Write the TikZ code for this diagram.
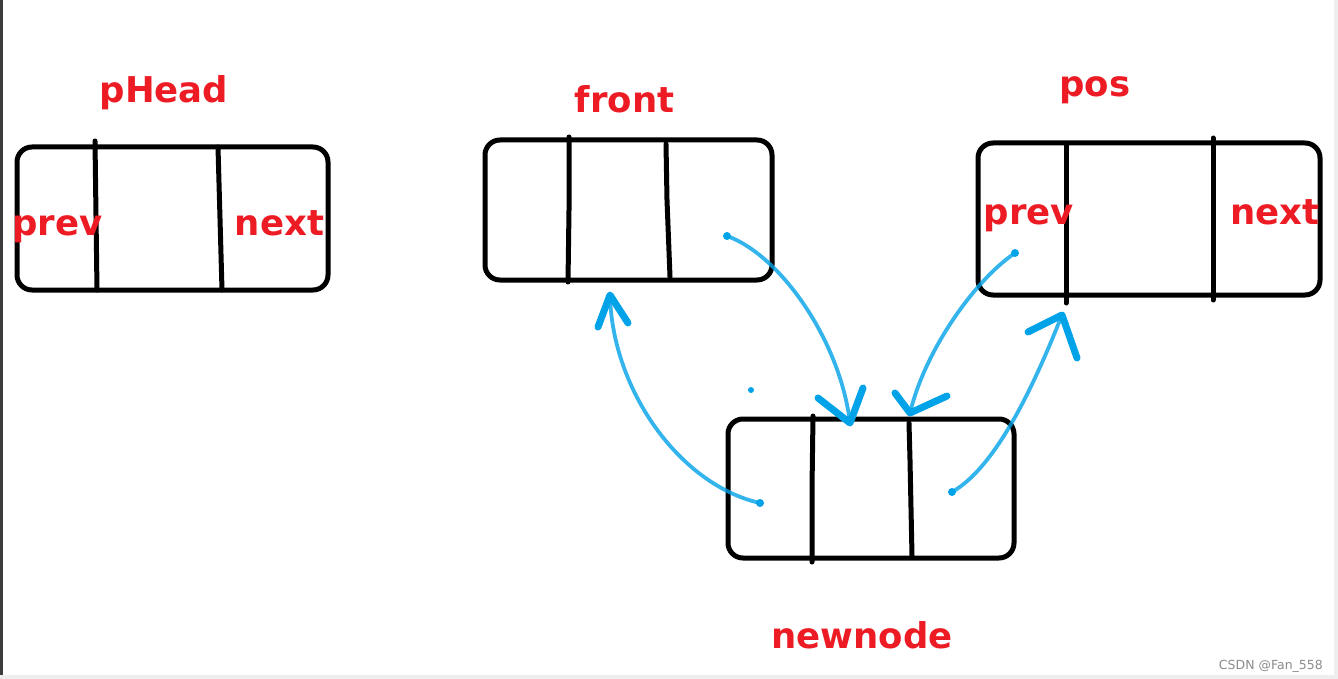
\documentclass[tikz,border=0pt]{standalone}
\usepackage{fontspec}
\setmainfont{DejaVu Sans}
\definecolor{pred}{RGB}{237,28,36}
\definecolor{pblue}{RGB}{0,162,232}
\definecolor{edgegray}{RGB}{60,60,60}
\definecolor{lightgray}{RGB}{238,238,238}
\definecolor{wmgray}{RGB}{140,140,140}
\begin{document}
\begin{tikzpicture}[x=1pt,y=-1pt,
  box/.style={draw=black,line width=5pt,rounded corners=15pt,rectangle,inner sep=0pt,outer sep=0pt},
  divider/.style={draw=black,line width=5pt,line cap=round},
  lbl/.style={text=pred,font=\fontsize{35.5}{40}\selectfont\bfseries,anchor=base,inner sep=0pt},
  curve/.style={draw=pblue,line width=3.8pt,line cap=round,opacity=0.8},
  arms/.style={draw=pblue,line width=7pt,line cap=round,line join=round}]
\useasboundingbox (0,0) rectangle (1338,679);
\fill[white] (0,0) rectangle (1338,679);
\fill[edgegray] (0,0) rectangle (3,679);
\fill[lightgray] (1334,0) rectangle (1338,679);
\fill[lightgray] (0,675) rectangle (1338,679);

% boxes
\node[box,minimum width=311pt,minimum height=143pt] (phead) at (172.5,218.5) {};
\node[box,minimum width=287pt,minimum height=140pt] (front) at (628.5,210) {};
\node[box,minimum width=342pt,minimum height=152pt] (pos) at (1149,219) {};
\node[box,minimum width=286pt,minimum height=139pt] (newn) at (871,488.5) {};

% dividers
\draw[divider] (95,141) -- (97,290);
\draw[divider] (218,147) -- (222,290);
\draw[divider] (569,137) -- (569,210) -- (568,282);
\draw[divider] (666,144) -- (667,200) -- (670,277);
\draw[divider] (1066,145) -- (1066,303);
\draw[divider] (1213,138) -- (1213,300);
\draw[divider] (813,416) -- (812,488) -- (812,562);
\draw[divider] (909,423) -- (910,460) -- (912,556);

% labels
\node[lbl] (tphead) at (164,103) {pHead};
\node[lbl] (tfront) at (624.5,113) {front};
\node[lbl] (tpos) at (1095,97) {pos};
\node[lbl] (tnew) at (862,648) {newnode};
\node[lbl] (prev1) at (57.5,235) {prev};
\node[lbl] (next1) at (279.5,235) {next};
\node[lbl] (prev2) at (1029,225) {prev};
\node[lbl] (next2) at (1275,225) {next};

% watermark
\node[text=wmgray,font=\fontsize{12.5}{14}\selectfont,anchor=base east,inner sep=0pt] (wm) at (1323,669) {CSDN @Fan\_558};

% blue arrow coordinates
\coordinate (as) at (727,236); \coordinate (ae) at (850,423);
\coordinate (al) at (818,398); \coordinate (ar) at (863,388);
\coordinate (bs) at (1015,253); \coordinate (be) at (910,413);
\coordinate (bl) at (895,393); \coordinate (br) at (947,396);
\coordinate (cs) at (760,503); \coordinate (ce) at (610,295);
\coordinate (cl) at (598,327); \coordinate (cr) at (628,323);
\coordinate (ds) at (952,492); \coordinate (de) at (1062,315);
\coordinate (dl) at (1028,332); \coordinate (dr) at (1077,358);

\draw[curve] (as) .. controls (780,255) and (840,340) .. (ae);
\draw[arms] (al) -- (ae) -- (ar);
\draw[curve] (bs) .. controls (975,280) and (925,350) .. (be);
\draw[arms] (bl) -- (be) -- (br);
\draw[curve] (cs) .. controls (680,485) and (612,390) .. (ce);
\draw[arms] (cl) -- (ce) -- (cr);
\draw[curve] (ds) .. controls (1000,465) and (1040,370) .. (de);
\draw[arms] (dl) -- (de) -- (dr);

% start dots
\fill[pblue] (as) circle (4pt);
\fill[pblue] (bs) circle (4pt);
\fill[pblue] (cs) circle (4pt);
\fill[pblue] (ds) circle (4pt);
\fill[pblue] (751,390) circle (3pt);
\end{tikzpicture}
\end{document}
